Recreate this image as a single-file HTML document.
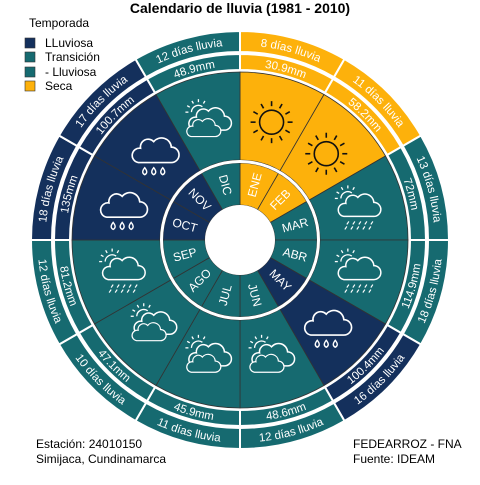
<!DOCTYPE html>
<html><head><meta charset="utf-8"><style>
body{margin:0;background:#fff}
svg text{font-family:"Liberation Sans",sans-serif}
</style></head><body>
<svg id="c" width="480" height="480" viewBox="0 0 480 480" xmlns="http://www.w3.org/2000/svg">
<defs id="defs"></defs>
<text x="240" y="13" text-anchor="middle" font-size="14" font-weight="bold">Calendario de lluvia (1981 - 2010)</text>
<g font-size="12">
<text x="29" y="27">Temporada</text>
<rect x="25" y="38" width="10" height="10" fill="#14305c" stroke="#333" stroke-width="0.6"/>
<text x="45" y="47">LLuviosa</text>
<rect x="25" y="52" width="10" height="10" fill="#166a70" stroke="#333" stroke-width="0.6"/>
<text x="45" y="61">Transición</text>
<rect x="25" y="67" width="10" height="10" fill="#166a70" stroke="#333" stroke-width="0.6"/>
<text x="45" y="76">- Lluviosa</text>
<rect x="25" y="81" width="10" height="10" fill="#fdb10b" stroke="#333" stroke-width="0.6"/>
<text x="45" y="90">Seca</text>
</g>
<g font-size="12">
<text x="36" y="448">Estación: 24010150</text>
<text x="36" y="463">Simijaca, Cundinamarca</text>
<text x="353" y="448">FEDEARROZ - FNA</text>
<text x="353" y="463">Fuente: IDEAM</text>
</g>
<g id="chart"></g>
</svg>
<script>
const months=["ENE","FEB","MAR","ABR","MAY","JUN","JUL","AGO","SEP","OCT","NOV","DIC"];
const rainMm=[30.9,58.2,72,114.9,100.4,48.6,45.9,47.1,81.2,135,100.7,48.9];
const rainDays=[8,11,13,18,16,12,11,10,12,18,17,12];
const seasons=["seca","seca","trans","trans","lluv","trans","trans","trans","trans","lluv","lluv","trans"];
const icons=["sun","sun","sunrain","sunrain","drops","suncloud","suncloud","suncloud","sunrain","drops","drops","suncloud"];
const colors={seca:"#fdb10b",trans:"#166a70",lluv:"#14305c"};
const NS="http://www.w3.org/2000/svg";
const cx=240,cy=240;
const g=document.getElementById("chart");
const defs=document.getElementById("defs");
function pt(r,a){const t=(a-90)*Math.PI/180;return [cx+r*Math.cos(t),cy+r*Math.sin(t)];}
function sector(r0,r1,a0,a1){const p0=pt(r1,a0),p1=pt(r1,a1),p2=pt(r0,a1),p3=pt(r0,a0);
return `M${p0[0]},${p0[1]}A${r1},${r1} 0 0 1 ${p1[0]},${p1[1]}L${p2[0]},${p2[1]}A${r0},${r0} 0 0 0 ${p3[0]},${p3[1]}Z`;}
function el(tag,attrs,parent){const e=document.createElementNS(NS,tag);for(const k in attrs)e.setAttribute(k,attrs[k]);(parent||g).appendChild(e);return e;}
function angOf(i){return i*30;}
function label(txt,r,a,rot,size,name){const p=pt(r,a);const t=el("text",{x:p[0],y:p[1],"text-anchor":"middle","dominant-baseline":"central","font-size":size,fill:"#fff",transform:`rotate(${rot} ${p[0]} ${p[1]})`});t.textContent=txt;


return t;}
let pid=0;
function arcLabel(txt,r,am,size,name){
  const flip=am>90&&am<270;
  const rr=flip?r+size*0.35:r-size*0.35;
  const a0=am-60,a1=am+60;
  let d;
  if(!flip){const p0=pt(rr,a0),p1=pt(rr,a1);d=`M${p0[0]},${p0[1]}A${rr},${rr} 0 0 1 ${p1[0]},${p1[1]}`;}
  else{const p0=pt(rr,a1),p1=pt(rr,a0);d=`M${p0[0]},${p0[1]}A${rr},${rr} 0 0 0 ${p1[0]},${p1[1]}`;}
  const id="arc"+(pid++);
  el("path",{id:id,d:d,fill:"none"},defs);
  const t=el("text",{"font-size":size,fill:"#fff"});
  
  
  const tp=el("textPath",{href:"#"+id,startOffset:"50%","text-anchor":"middle"},t);
  tp.textContent=txt;
}
const cloudPath="M-14,8 h30 a7,7 0 0 0 0,-14 a9,9 0 0 0 -16,-5 a7,7 0 0 0 -12,6 a6.5,6.5 0 0 0 -2,13 z";
function drawIcon(type,x,y,i){const ig=el("g",{transform:`translate(${x},${y})`});


if(type==="sun"){el("circle",{cx:0,cy:0,r:12,fill:"none",stroke:"#111","stroke-width":1.6},ig);
for(let k=0;k<12;k++){const t=k*Math.PI/6;el("line",{x1:16*Math.cos(t),y1:16*Math.sin(t),x2:21*Math.cos(t),y2:21*Math.sin(t),stroke:"#111","stroke-width":1.6},ig);}return;}
if(type!=="drops"){const sg=el("g",{transform:"translate(-10,-10)"},ig);
el("path",{d:"M-7,0 a7,7 0 0 1 11,-5.5",fill:"none",stroke:"#fff","stroke-width":1.3},sg);
for(let k=0;k<5;k++){const t=(-180+k*30)*Math.PI/180;el("line",{x1:10*Math.cos(t),y1:10*Math.sin(t),x2:13*Math.cos(t),y2:13*Math.sin(t),stroke:"#fff","stroke-width":1.3},sg);}}
const s=type==="drops"?1.1:1;
el("path",{d:cloudPath,fill:type==="drops"?"none":(colors[seasons[i]]),stroke:"#fff","stroke-width":1.5,transform:`scale(${s})`},ig);
if(type==="suncloud"){el("path",{d:cloudPath,fill:colors[seasons[i]],stroke:"#fff","stroke-width":1.5,transform:"translate(-6,8) scale(0.8)"},ig);}
if(type==="sunrain"){for(let row=0;row<2;row++)for(let k=0;k<5;k++){el("line",{x1:-9+k*6-row*2,y1:13+row*5,x2:-11+k*6-row*2,y2:16+row*5,stroke:"#fff","stroke-width":1.2},ig);}}
if(type==="drops"){for(let k=0;k<3;k++){const dx=-9+k*9;el("path",{d:`M${dx},14 q-4,5 0,7 q4,-2 0,-7z`,fill:"none",stroke:"#fff","stroke-width":1.4},ig);}}
}
for(let i=0;i<12;i++){const a0=angOf(i),a1=a0+30,am=a0+15,col=colors[seasons[i]];
let p=el("path",{d:sector(35,77,a0,a1),fill:col,stroke:"#333","stroke-width":0.8});


p=el("path",{d:sector(80,168,a0,a1),fill:col,stroke:"#333","stroke-width":0.8});


p=el("path",{d:sector(170,186,a0,a1),fill:col,stroke:"#fff","stroke-width":2});


p=el("path",{d:sector(188,209,a0,a1),fill:col,stroke:"#fff","stroke-width":2});


let mrot=am<180?am-90:am+90;
label(months[i],57,am,mrot,12,'month-label-'+months[i].toLowerCase());
arcLabel(rainMm[i]+"mm",178,am,11.5,'rain-mm-label-'+months[i].toLowerCase());
arcLabel(rainDays[i]+" días lluvia",198.5,am,11.5,'rain-days-label-'+months[i].toLowerCase());
const ic=pt(122,am);drawIcon(icons[i],ic[0],ic[1],i);
}
let c=el("circle",{cx:cx,cy:cy,r:78.5,fill:"none",stroke:"#fff","stroke-width":3});


c=el("circle",{cx:cx,cy:cy,r:35,fill:"#fff"});


</script>
</body></html>
